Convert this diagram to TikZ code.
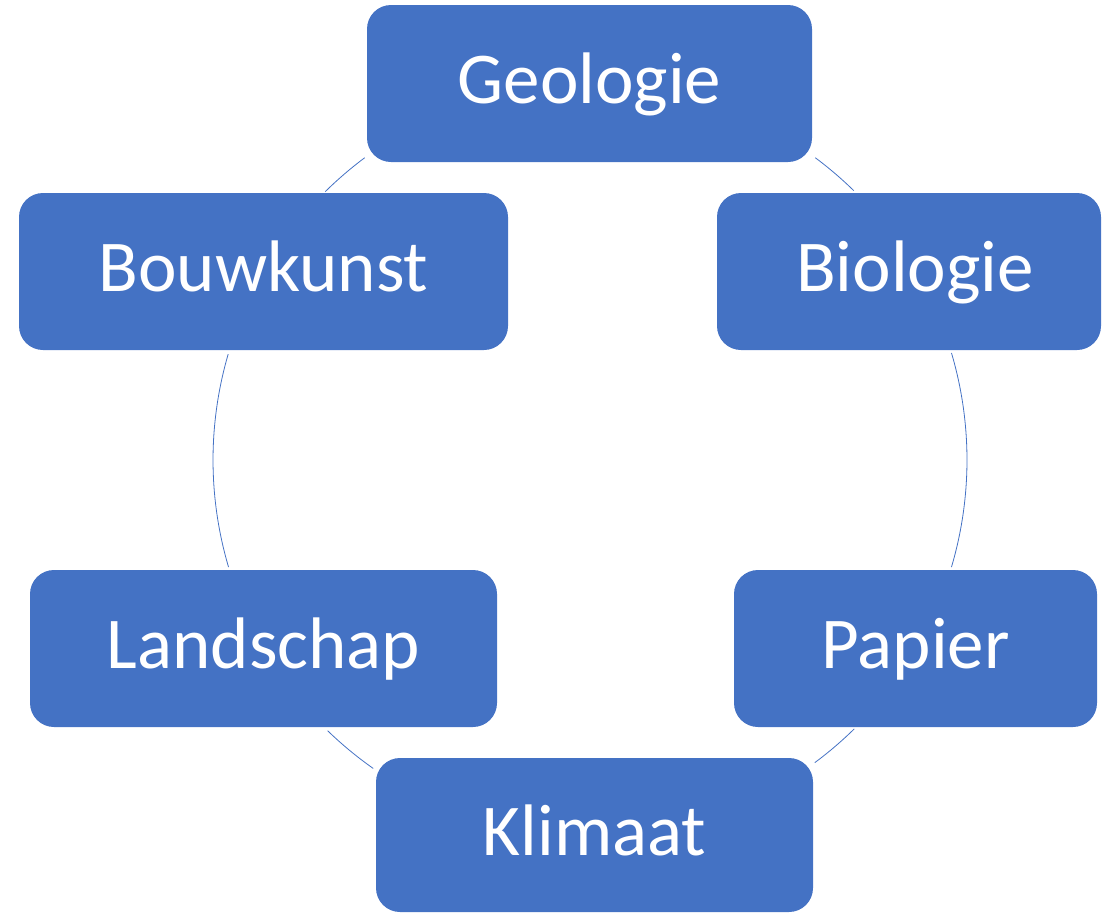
\documentclass[tikz,border=0pt]{standalone}
\usepackage{fontspec}
\setmainfont{Carlito}
\usepackage{tikz}
\usetikzlibrary{calc}
\usepackage{xcolor}
\definecolor{cycleblue}{RGB}{68,114,196}
\tikzset{
  topic/.style={rectangle,rounded corners=24pt,fill=cycleblue,draw=none,
                inner sep=0pt,minimum height=157pt,text=white,
                font=\fontsize{73}{80}\selectfont,
                text height=52pt,text depth=12pt},
  ring/.style={draw=cycleblue,line width=.8pt},
}

\begin{document}
\begin{tikzpicture}[x=1pt,y=-1pt]
  \useasboundingbox (0,0) rectangle (1102,913);
  \coordinate (hub) at (590,460);
  \foreach \a/\b in {126.7/134.6,45.6/53.3,163.7/196.5,225.9/234.9,306.6/314.5,-16.5/16.5}
    \draw[ring] ([shift={(\a:377pt)}]hub) arc[start angle=\a,end angle=\b,radius=377pt];
  \node[topic,minimum width=445pt] (geo)  at (589.5,83.5)  {Geologie};
  \node[topic,minimum width=489pt] (bouw) at (263.5,271.5) {Bouwkunst};
  \node[topic,minimum width=384pt] (bio)  at (909,271.5)   {\hspace*{12pt}Biologie};
  \node[topic,minimum width=467pt] (land) at (263.5,648.5) {Landschap};
  \node[topic,minimum width=363pt] (pap)  at (915.5,648.5) {Papier};
  \node[topic,minimum width=437pt,minimum height=154pt] (klim) at (594.5,835) {Klimaat};
\end{tikzpicture}
\end{document}
